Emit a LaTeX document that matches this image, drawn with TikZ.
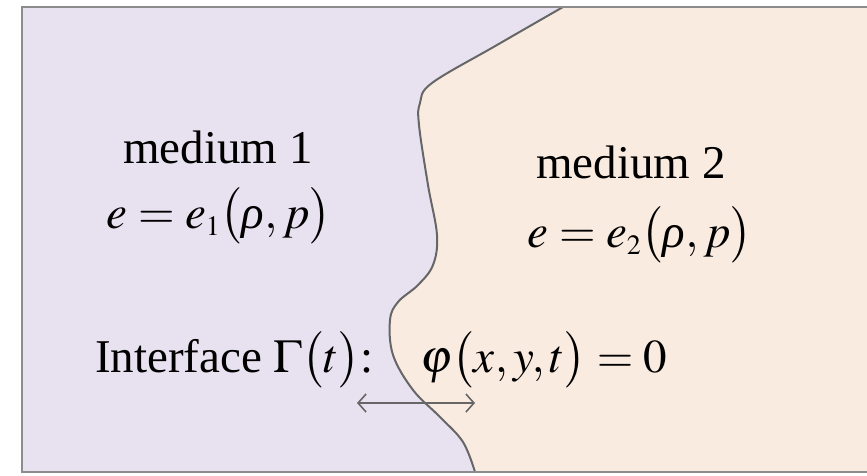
\documentclass[tikz,border=0pt]{standalone}
\usepackage{mathptmx}
\usepackage[no-math]{fontspec}
\setmainfont{Liberation Serif}
\usetikzlibrary{arrows.meta}
\DeclareMathSizes{47}{47}{28}{20}
\definecolor{mediumone}{RGB}{232,226,240}
\definecolor{mediumtwo}{RGB}{250,235,225}
\newcommand{\itrho}{\mbox{\itshape ρ}}

\begin{document}
\begin{tikzpicture}[x=1pt,y=-1pt,
      every node/.style={font=\fontsize{47}{54}\selectfont,inner sep=0pt},
      txt/.style={anchor=base},
      boxline/.style={draw=black!45,line width=2.5pt},
      iline/.style={draw=black!60,line width=2pt}]
      \useasboundingbox (0,0) rectangle (867,475);
      % the two media
      \fill[mediumtwo] (22,7) rectangle (867,472);
      \fill[mediumone] (22,472) -- (22,7) -- plot[smooth,tension=0.6] coordinates {(563,7) (497,45) (432,83) (420,103) (419,125) (428,185) (437,235) (433,265) (418,285) (398,302) (390,320) (393,355) (413,390) (440,417) (463,442) (475,472)} -- cycle;
      \draw[iline] plot[smooth,tension=0.6] coordinates {(563,7) (497,45) (432,83) (420,103) (419,125) (428,185) (437,235) (433,265) (418,285) (398,302) (390,320) (393,355) (413,390) (440,417) (463,442) (475,472)};
      \draw[boxline] (867,7) -- (22,7) -- (22,472) -- (867,472);
      % labels
      \node[txt] (med1) at (218,163) {medium 1};
      \node[txt] (eos1) at (219,228) {$e=e_1\bigl(\itrho,p\bigr)$};
      \node[txt] (med2) at (631,178) {medium 2};
      \node[txt] (eos2) at (640,247) {$e=e_2\bigl(\itrho,p\bigr)$};
      \node[txt,anchor=base west] (iface) at (95,372) {Interface $\Gamma\bigl(t\bigr)$:};
      \node[txt,anchor=base west] (phi) at (420,372) {$\varphi\bigl(x,y,t\bigr)=0$};
      % motion of the interface
      \coordinate (al) at (357,403);
      \coordinate (ar) at (475,403);
      \draw[{Straight Barb[length=8pt,width=18pt]}-{Straight Barb[length=8pt,width=18pt]},draw=black!60,line width=1.6pt] (al) -- (ar);
    \end{tikzpicture}
\end{document}
